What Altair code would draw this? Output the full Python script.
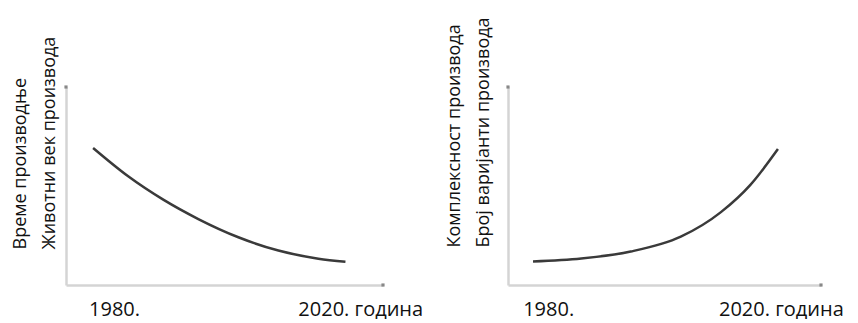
import altair as alt
import pandas as pd

# Data
left_years = [1976.6, 1982.3, 1988.0, 1993.7, 2000.2, 2006.7, 2013.2, 2017.6]
left_values = [69.2, 54.9, 43.1, 33.3, 24.1, 17.4, 13.3, 11.8]
right_years = [1977.4, 1985.7, 1994.2, 2002.8, 2009.7, 2014.8, 2019.5]
right_values = [11.9, 13.4, 16.9, 24.4, 36.8, 50.7, 68.7]

left_title = ["Време производње", "Животни век производа"]
right_title = ["Комплексност производа", "Број варијанти производа"]

tick_years = [1980, 2020]
tick_labels = ["1980.", "2020. година"]

left_domain = [1972.2, 2023.7]
right_domain = [1973.1, 2026.9]
value_domain = [0, 100]

label_expr = " : ".join(
    [f"datum.value == {y} ? '{l}'" for y, l in zip(tick_years[:-1], tick_labels[:-1])]
    + [f"'{tick_labels[-1]}'"]
)

FONT = "Open Sans"


def panel(years, values, xdom, title, width, height, title_x, title_y):
    df = pd.DataFrame({"year": years, "value": values})
    x = alt.X(
        "year:Q",
        scale=alt.Scale(domain=xdom, nice=False, zero=False),
        axis=alt.Axis(
            values=tick_years,
            labelExpr=label_expr,
            ticks=False,
            tickSize=0,
            grid=False,
            labelPadding=14,
            labelFontSize=20,
            labelFont=FONT,
            labelColor="#111111",
            labelFlush=False,
            labelOverlap=False,
            domainColor="#d4d4d4",
            domainWidth=2.5,
            title=None,
        ),
    )
    y = alt.Y(
        "value:Q",
        scale=alt.Scale(domain=value_domain, nice=False),
        axis=alt.Axis(
            title=title,
            labels=False,
            ticks=False,
            tickSize=0,
            grid=False,
            domainColor="#d4d4d4",
            domainWidth=2.5,
            titleAngle=-90,
            titleAlign="left",
            titleBaseline="bottom",
            titleX=title_x,
            titleY=title_y,
            titleLineHeight=29,
            titleFont=FONT,
            titleFontSize=18,
            titleFontWeight="normal",
            titleColor="#111111",
        ),
    )
    line = alt.Chart(df).mark_line(
        interpolate="monotone", color="#3a3a3a", strokeWidth=2.5
    ).encode(x=x, y=y)
    ends = alt.Chart(
        pd.DataFrame({"year": [xdom[0], xdom[1]], "value": [value_domain[1], value_domain[0]]})
    ).mark_square(size=10, color="#888888", opacity=1).encode(x=x, y=y)
    return alt.layer(line, ends).properties(
        width=width,
        height=height,
        view=alt.ViewConfig(stroke="transparent", strokeWidth=0, strokeOpacity=0),
    )


left = panel(left_years, left_values, left_domain, left_title, 317, 198, -37, 162)
right = panel(right_years, right_values, right_domain, right_title, 313, 198, -45, 160)

chart = (
    alt.hconcat(left, right, spacing=22)
    .properties(padding={"left": 11, "top": 16, "right": 0, "bottom": 0})
    .configure_view(strokeWidth=0, stroke="transparent", strokeOpacity=0)
    .configure(background="white")
)

chart.save("out.html", embed_options={"renderer": "svg", "actions": False})
